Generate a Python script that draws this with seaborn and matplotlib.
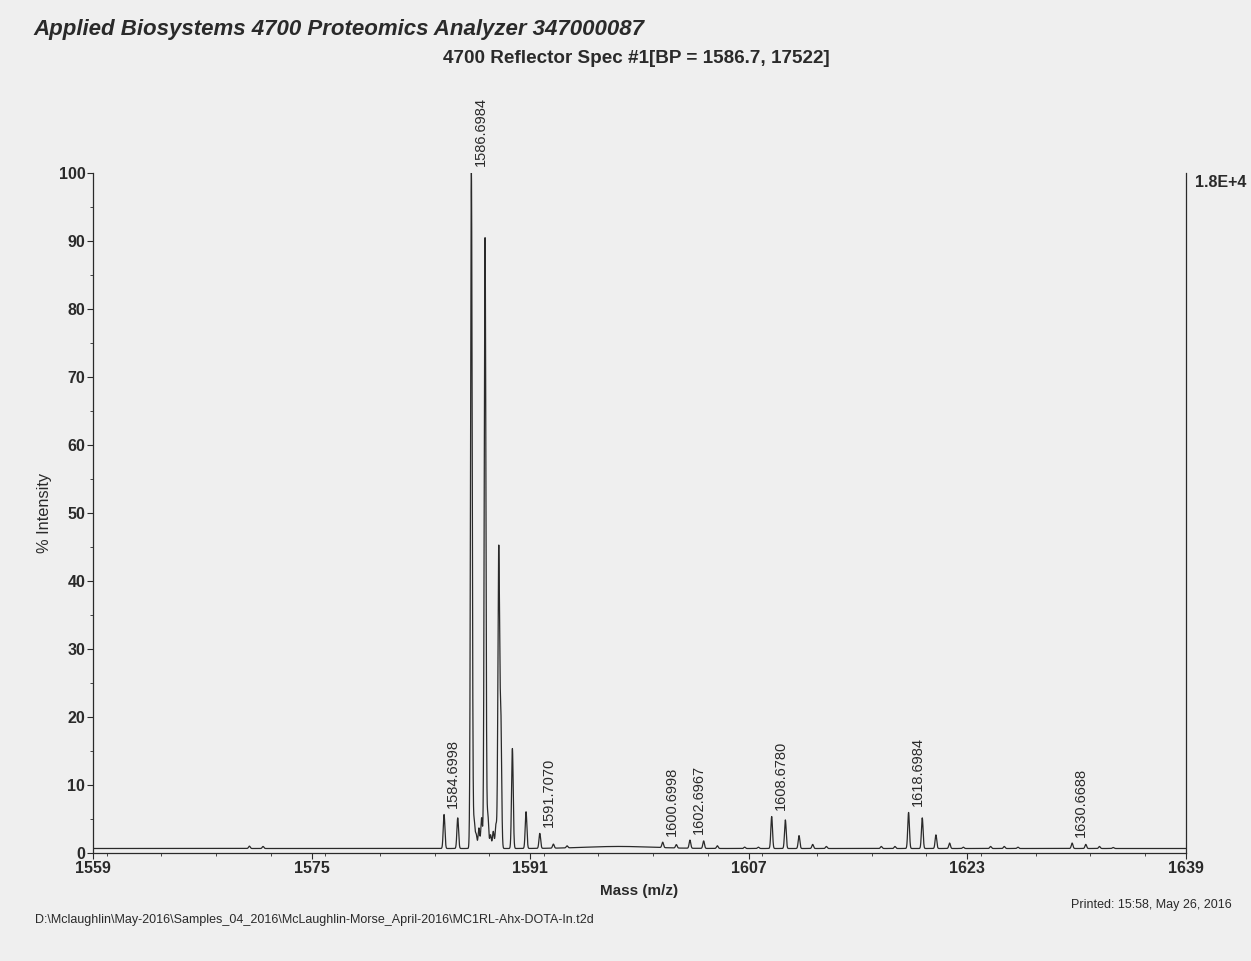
import numpy as np
import pandas as pd
import matplotlib
matplotlib.use("Agg")
import matplotlib.pyplot as plt
from matplotlib.ticker import MultipleLocator
import seaborn as sns

# Centroided peaks (m/z) and their heights above baseline (% of base peak)
peak_mz = [
    1570.45, 1571.45,
    1584.6998, 1585.70, 1586.6984, 1586.90, 1587.05, 1587.25, 1587.45,
    1587.70, 1587.90, 1588.10, 1588.30, 1588.50, 1588.70, 1588.85,
    1589.70, 1590.70, 1591.7070, 1592.70, 1593.70,
    1600.6998, 1601.70, 1602.6967, 1603.70, 1604.70, 1606.70, 1607.70,
    1608.6780, 1609.68, 1610.68, 1611.68, 1612.68,
    1616.70, 1617.70, 1618.6984, 1619.70, 1620.70, 1621.70, 1622.70,
    1624.70, 1625.70, 1626.70,
    1630.6688, 1631.67, 1632.67, 1633.67,
]
peak_height = [
    0.35, 0.30,
    5.0, 4.5, 99.4, 4.0, 2.0, 3.0, 4.5,
    89.8, 5.0, 2.0, 2.5, 3.5, 43.7, 19.5,
    14.7, 5.4, 2.2, 0.6, 0.3,
    0.8, 0.5, 1.2, 1.1, 0.4, 0.2, 0.2,
    4.7, 4.2, 1.9, 0.6, 0.3,
    0.3, 0.3, 5.3, 4.5, 2.0, 0.8, 0.2,
    0.3, 0.3, 0.2,
    0.8, 0.6, 0.3, 0.15,
]

# Annotated monoisotopic peaks
labeled_mz = [1584.6998, 1586.6984, 1591.7070, 1600.6998,
              1602.6967, 1608.6780, 1618.6984, 1630.6688]

# Chemical-noise baseline and the broad hump around 1597
baseline_level = 0.66
hump_center, hump_height, hump_width = 1597.5, 0.3, 2.5

x_ticks = [1559, 1575, 1591, 1607, 1623, 1639]
y_ticks = list(range(0, 101, 10))

# Build the profile trace from the peak list
peak_sigma = 0.06
mz = np.arange(1559.0, 1639.0, 0.004)
intensity = np.full_like(mz, baseline_level)
intensity += hump_height * np.exp(-0.5 * ((mz - hump_center) / hump_width) ** 2)
for c, h in zip(peak_mz, peak_height):
    intensity += h * np.exp(-0.5 * ((mz - c) / peak_sigma) ** 2)
spectrum = pd.DataFrame({"mz": mz, "intensity": intensity})

sns.set_style("ticks")
plt.rcParams["font.family"] = ["Liberation Sans", "DejaVu Sans"]
bg = "#efefef"
ink = "#2a2a2a"

fig = plt.figure(figsize=(12.51, 9.61), dpi=100, facecolor=bg)
ax = fig.add_axes([0.0743, 0.1124, 0.8737, 0.7076], facecolor=bg)

sns.lineplot(data=spectrum, x="mz", y="intensity", ax=ax, color=ink,
             linewidth=0.9, estimator=None, sort=False)

ax.set_xlim(1559, 1639)
ax.set_ylim(0, 100)
ax.set_xticks(x_ticks)
ax.set_yticks(y_ticks)
ax.xaxis.set_minor_locator(MultipleLocator(4))
ax.yaxis.set_minor_locator(MultipleLocator(5))
ax.tick_params(axis="both", which="major", direction="out", length=4,
               width=0.8, color=ink, labelsize=11.5, pad=1.5)
ax.tick_params(axis="both", which="minor", direction="out", length=2.5,
               width=0.6, color=ink)
for lbl in ax.get_xticklabels() + ax.get_yticklabels():
    lbl.set_fontweight("bold")
    lbl.set_color(ink)

for side in ("left", "bottom", "right"):
    ax.spines[side].set_color(ink)
    ax.spines[side].set_linewidth(0.9)
ax.spines["top"].set_visible(False)

ax.set_xlabel("Mass (m/z)", fontsize=11, fontweight="bold", color=ink,
              labelpad=6)
ax.set_ylabel("% Intensity", fontsize=11.8, color=ink, labelpad=5)

# Peak annotations
for m in labeled_mz:
    i = int(np.argmin(np.abs(mz - m)))
    top = intensity[max(i - 10, 0):i + 10].max()
    ax.annotate(f"{m:.4f}", xy=(m, top), xytext=(6.5, 4.5),
                textcoords="offset points", rotation=90, ha="center",
                va="bottom", fontsize=10.5, color=ink)

fig.text(0.0264, 0.9688, "Applied Biosystems 4700 Proteomics Analyzer 347000087",
         fontsize=16, fontweight="bold", fontstyle="italic", color=ink,
         ha="left", va="center")
fig.text(0.5084, 0.9396, "4700 Reflector Spec #1[BP = 1586.7, 17522]",
         fontsize=13.6, fontweight="bold", color=ink, ha="center", va="center")
fig.text(0.9552, 0.8106, "1.8E+4", fontsize=11.5, fontweight="bold", color=ink,
         ha="left", va="center")
fig.text(0.028, 0.0427,
         "D:\\Mclaughlin\\May-2016\\Samples_04_2016\\McLaughlin-Morse_April-2016\\MC1RL-Ahx-DOTA-In.t2d",
         fontsize=9, color=ink, ha="left", va="center")
fig.text(0.9848, 0.0583, "Printed: 15:58, May 26, 2016", fontsize=9,
         color=ink, ha="right", va="center")

fig.savefig("out.png", dpi=100, facecolor=bg)
